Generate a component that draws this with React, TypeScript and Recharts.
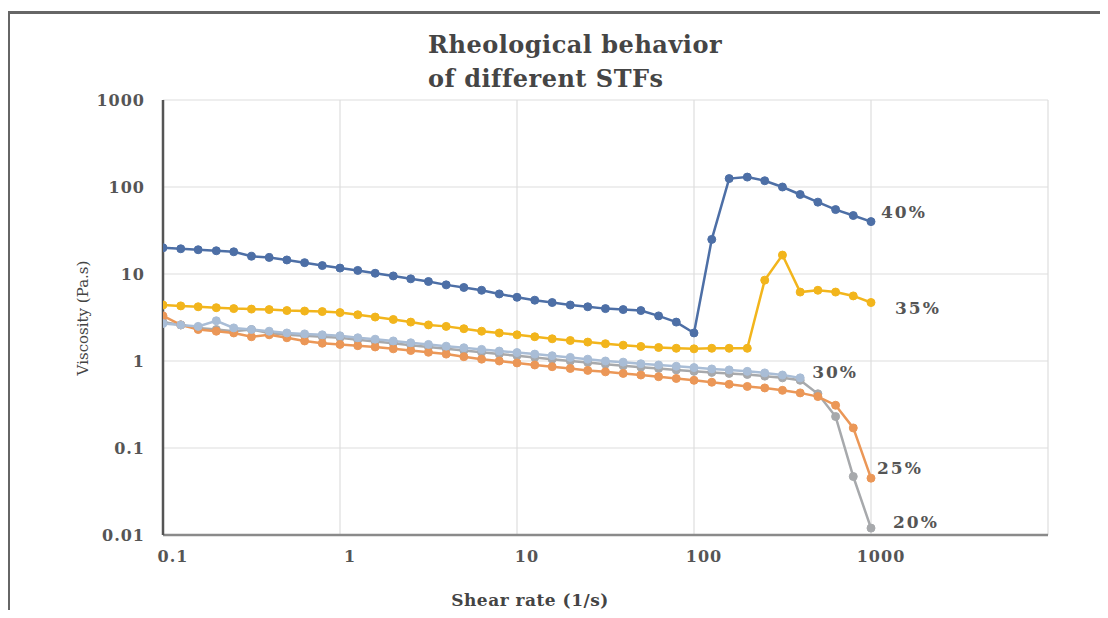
import React from 'react';
import {
  LineChart,
  Line,
  XAxis,
  YAxis,
  CartesianGrid,
  LabelList,
} from 'recharts';

// shear rate (1/s), ~10 points per decade
const shearRate = [
  0.1, 0.126, 0.158, 0.2, 0.251, 0.316, 0.398, 0.501, 0.631, 0.794,
  1, 1.26, 1.58, 2, 2.51, 3.16, 3.98, 5.01, 6.31, 7.94,
  10, 12.6, 15.8, 20, 25.1, 31.6, 39.8, 50.1, 63.1, 79.4,
  100, 126, 158, 200, 251, 316, 398, 501, 631, 794, 1000,
];

const stf40 = [
  20, 19.5, 19, 18.5, 18, 16, 15.5, 14.5, 13.5, 12.5,
  11.7, 11, 10.2, 9.5, 8.8, 8.2, 7.5, 7, 6.5, 5.9,
  5.4, 5.0, 4.7, 4.4, 4.2, 4.0, 3.9, 3.8, 3.3, 2.8,
  2.1, 25, 125, 130, 118, 100, 82, 67, 55, 47, 40,
];

const stf35 = [
  4.4, 4.3, 4.2, 4.1, 4.0, 3.95, 3.9, 3.8, 3.75, 3.7,
  3.6, 3.4, 3.2, 3.0, 2.8, 2.6, 2.5, 2.35, 2.2, 2.1,
  2.0, 1.9, 1.8, 1.72, 1.65, 1.58, 1.52, 1.47, 1.43, 1.4,
  1.38, 1.4, 1.4, 1.4, 8.5, 16.5, 6.2, 6.5, 6.2, 5.6, 4.7,
];

const stf30 = [
  2.7, 2.6, 2.5, 2.9, 2.4, 2.3, 2.2, 2.1, 2.05, 2.0,
  1.95, 1.85, 1.78, 1.7, 1.62, 1.55, 1.48, 1.42, 1.36, 1.3,
  1.25, 1.2, 1.15, 1.1, 1.05, 1.0, 0.97, 0.93, 0.9, 0.87,
  0.84, 0.81, 0.79, 0.76, 0.73, 0.69, 0.64, null, null, null, null,
];

const stf25 = [
  3.3, 2.6, 2.3, 2.2, 2.1, 1.9, 2.0, 1.85, 1.7, 1.6,
  1.55, 1.5, 1.45, 1.38, 1.32, 1.26, 1.2, 1.12, 1.05, 1.0,
  0.95, 0.9, 0.86, 0.82, 0.78, 0.75, 0.72, 0.69, 0.66, 0.63,
  0.6, 0.57, 0.54, 0.51, 0.49, 0.46, 0.43, 0.39, 0.31, 0.17, 0.045,
];

const stf20 = [
  2.8, 2.6, 2.4, 2.3, 2.2, 2.3, 2.1, 2.0, 1.95, 1.9,
  1.85, 1.75, 1.68, 1.6, 1.52, 1.45, 1.38, 1.32, 1.26, 1.2,
  1.15, 1.1, 1.05, 1.0, 0.96, 0.92, 0.88, 0.85, 0.82, 0.79,
  0.76, 0.74, 0.72, 0.7, 0.67, 0.64, 0.6, 0.42, 0.23, 0.047, 0.012,
];

const xTicks = [0.1, 1, 10, 100, 1000, 10000];
const yTicks = [0.01, 0.1, 1, 10, 100, 1000];

const data = shearRate.map((x, i) => ({
  x,
  s40: stf40[i],
  s35: stf35[i],
  s30: stf30[i],
  s25: stf25[i],
  s20: stf20[i],
}));

const serif = '"DejaVu Serif", "Liberation Serif", serif';

const series = [
  { key: 's20', name: '20%', color: '#a7a9ac', last: 40, dx: 22, dy: -6 },
  { key: 's25', name: '25%', color: '#eb9757', last: 40, dx: 6, dy: -10 },
  { key: 's30', name: '30%', color: '#a9bdd6', last: 36, dx: 12, dy: -6 },
  { key: 's35', name: '35%', color: '#f2b51c', last: 40, dx: 24, dy: 5 },
  { key: 's40', name: '40%', color: '#4d6fa6', last: 40, dx: 10, dy: -10 },
];

function endLabel(name: string, last: number, dx: number, dy: number) {
  return (props: any) => {
    if (props.index !== last) return null;
    return (
      <text
        x={props.x + dx}
        y={props.y + dy + 6}
        fill="#555"
        fontFamily={serif}
        fontWeight="bold"
        fontSize={17}
        letterSpacing={2}
        textAnchor="start"
      >
        {name}
      </text>
    );
  };
}

export default function App() {
  return (
    <div style={{ position: 'relative', width: 1092, height: 602 }}>
      <div
        style={{
          position: 'absolute',
          left: 0,
          top: 3,
          width: 1100,
          height: 610,
          borderTop: '3px solid #666',
          borderLeft: '2px solid #666',
        }}
      />
      <div
        style={{
          position: 'absolute',
          left: 420,
          top: 20,
          fontFamily: serif,
          fontWeight: 'bold',
          fontSize: 24,
          letterSpacing: 0.5,
          lineHeight: '34px',
          color: '#454545',
        }}
      >
        Rheological behavior
        <br />
        of different STFs
      </div>
      <div
        style={{
          position: 'absolute',
          left: 75,
          top: 310,
          transform: 'translate(-50%, -50%) rotate(-90deg)',
          fontFamily: serif,
          fontSize: 15,
          color: '#444',
          whiteSpace: 'nowrap',
        }}
      >
        Viscosity (Pa.s)
      </div>
      <div
        style={{
          position: 'absolute',
          left: 522,
          top: 592,
          transform: 'translate(-50%, -50%)',
          fontFamily: serif,
          fontWeight: 'bold',
          fontSize: 17,
          letterSpacing: 0.5,
          color: '#444',
          whiteSpace: 'nowrap',
        }}
      >
        Shear rate (1/s)
      </div>
      <LineChart
        width={1092}
        height={602}
        data={data}
        margin={{ top: 92, right: 52, left: 95, bottom: 35 }}
        style={{ position: 'absolute', left: 0, top: 0 }}
      >
        <CartesianGrid stroke="#dedede" strokeWidth={1.2} />
        <XAxis
          dataKey="x"
          type="number"
          scale="log"
          domain={[0.1, 10000]}
          ticks={xTicks}
          allowDataOverflow
          height={40}
          tickLine={false}
          axisLine={{ stroke: '#8a8a8a', strokeWidth: 2.5 }}
          tickFormatter={(v: number) => (v === 10000 ? '' : String(v))}
          tick={{ fill: '#555', fontFamily: serif, fontWeight: 'bold', fontSize: 16, letterSpacing: 1, dx: 10 }}
          tickMargin={10}
        />
        <YAxis
          type="number"
          scale="log"
          domain={[0.01, 1000]}
          ticks={yTicks}
          allowDataOverflow
          width={60}
          tickLine={false}
          axisLine={{ stroke: '#555', strokeWidth: 2.5 }}
          tickFormatter={(v: number) => String(v)}
          tick={{ fill: '#555', fontFamily: serif, fontWeight: 'bold', fontSize: 16, letterSpacing: 1 }}
          tickMargin={12}
        />
        {series.map((s) => (
          <Line
            key={s.key}
            dataKey={s.key}
            name={s.name}
            stroke={s.color}
            strokeWidth={2.5}
            dot={{ r: 4, fill: s.color, stroke: s.color, strokeWidth: 1 }}
            activeDot={false}
            isAnimationActive={false}
          >
            <LabelList content={endLabel(s.name, s.last, s.dx, s.dy)} />
          </Line>
        ))}
      </LineChart>
    </div>
  );
}
